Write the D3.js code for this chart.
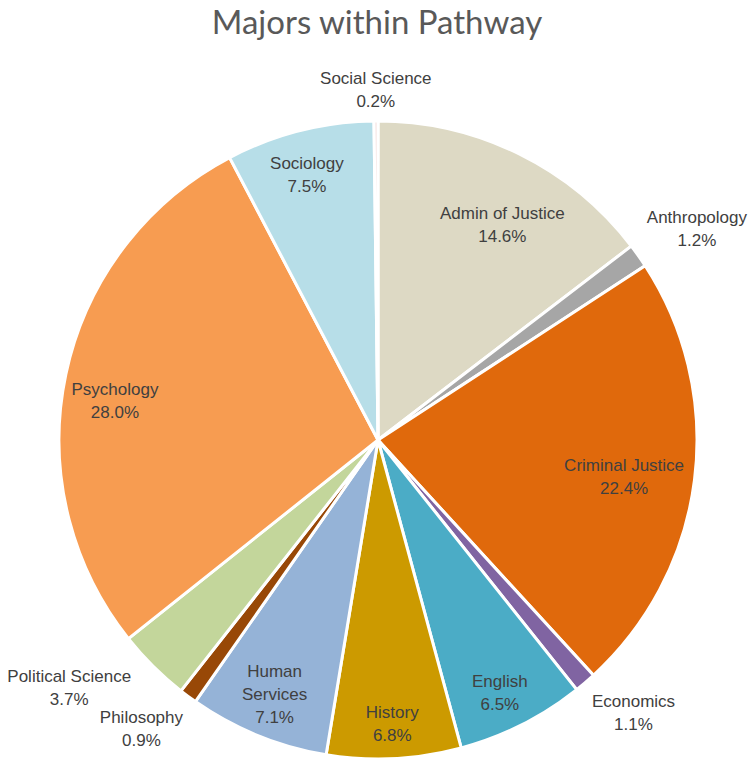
<!DOCTYPE html>
<html lang="en">
<head>
  <meta charset="UTF-8">
  <title>Majors within Pathway</title>
  <script src="https://d3js.org/d3.v7.min.js"></script>
  <style>
    body { margin: 0; background: #fff; }
    .title { font: 33px Lato, "Open Sans", sans-serif; fill: #595959; }
    .label text { font: 17px "Liberation Sans", Arial, sans-serif; fill: #404040; }
    .slice { stroke: #fff; stroke-width: 3px; }
  </style>
</head>
<body>
  <svg width="751" height="761"></svg>

  <script>
    // data
    const majors = ["Admin of Justice", "Anthropology", "Criminal Justice", "Economics", "English",
                    "History", "Human Services", "Philosophy", "Political Science", "Psychology",
                    "Sociology", "Social Science"];
    const shares = [14.6, 1.2, 22.4, 1.1, 6.5, 6.8, 7.1, 0.9, 3.7, 28.0, 7.5, 0.2];
    const colors = ["#ddd9c4", "#a6a6a6", "#e0690c", "#8064a2", "#4bacc6", "#cc9a00",
                    "#95b3d7", "#984807", "#c3d69b", "#f79c51", "#b7dee8", "#f2dcdb"];

    // label line breaks, distance from centre (fraction of radius) and angle nudge (degrees)
    const labelLines = {"Human Services": ["Human", "Services"]};
    const labelRadius = [0.78, 1.2, 0.78, 1.17, 0.88, 0.89, 0.86, 1.17, 1.24, 0.834, 0.86, 1.1];
    const labelAngle  = [3.7, 1.7, 1.3, -2.7, 1.1, 0, 0, 2.8, 6.5, -3.3, -0.8, 0];

    const svg = d3.select("svg");
    const cx = 378, cy = 440, r = 319;

    svg.append("text")
      .attr("class", "title")
      .attr("x", 377)
      .attr("y", 34)
      .attr("text-anchor", "middle")
      .text("Majors within Pathway");

    const pie = d3.pie().sort(null).value(d => d.value);
    const arcs = pie(majors.map((m, i) => ({name: m, value: shares[i], idx: i})));
    const arc = d3.arc().innerRadius(0).outerRadius(r);

    const g = svg.append("g").attr("transform", `translate(${cx},${cy})`);

    g.selectAll(".slice")
      .data(arcs)
      .enter()
      .append("path")
      .attr("class", "slice")
      .attr("fill", d => colors[d.data.idx])
      .attr("d", arc);

    const label = g.selectAll(".label")
      .data(arcs)
      .enter()
      .append("g")
      .attr("class", "label")
      .attr("transform", d => {
        const a = (d.startAngle + d.endAngle) / 2 + labelAngle[d.data.idx] * Math.PI / 180;
        const k = r * labelRadius[d.data.idx];
        return `translate(${Math.sin(a) * k},${-Math.cos(a) * k})`;
      });

    label.each(function(d) {
      const lines = (labelLines[d.data.name] || [d.data.name]).concat([d.data.value.toFixed(1) + "%"]);
      const lh = 23;
      const t = d3.select(this).append("text").attr("text-anchor", "middle");
      lines.forEach((s, i) => {
        t.append("tspan")
          .attr("x", 0)
          .attr("y", (i - (lines.length - 1) / 2) * lh)
          .attr("dy", "0.35em")
          .text(s);
      });
    });
  </script>
</body>
</html>
